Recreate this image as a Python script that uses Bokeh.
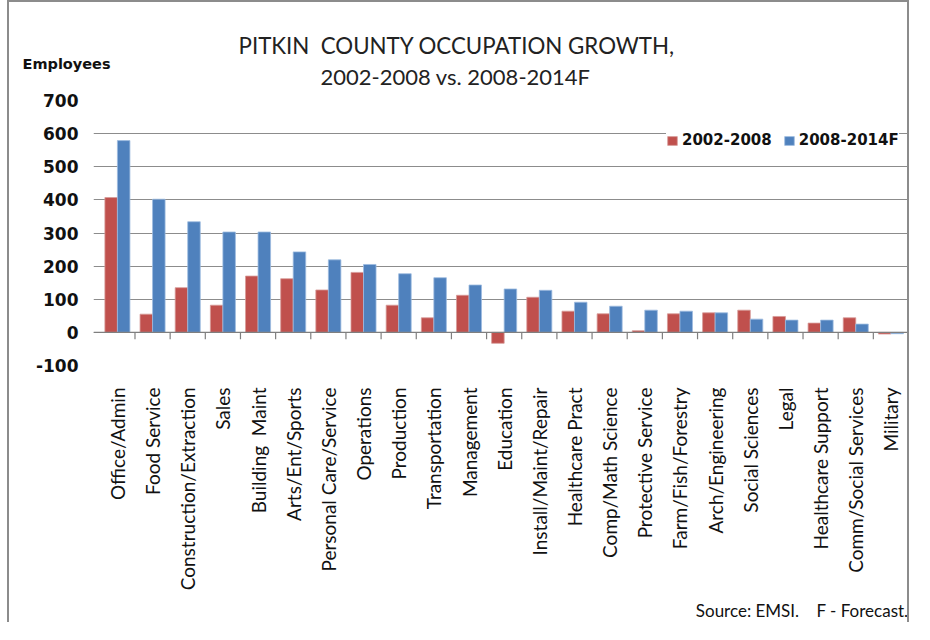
import math
from bokeh.plotting import figure
from bokeh.models import Range1d, FixedTicker, Span, Title, ColumnDataSource
from bokeh.transform import dodge
from bokeh.embed import file_html
from bokeh.resources import INLINE

categories = ["Office/Admin", "Food Service", "Construction/Extraction", "Sales",
              "Building\u00a0 Maint", "Arts/Ent/Sports", "Personal Care/Service", "Operations",
              "Production", "Transportation", "Management", "Education",
              "Install/Maint/Repair", "Healthcare Pract", "Comp/Math Science",
              "Protective Service", "Farm/Fish/Forestry", "Arch/Engineering",
              "Social Sciences", "Legal", "Healthcare Support", "Comm/Social Services",
              "Military"]
growth_2002_2008 = [407, 55, 135, 82, 170, 162, 128, 181, 82, 44, 112, -33,
                    106, 64, 56, 5, 56, 59, 67, 48, 28, 44, -5]
growth_2008_2014F = [579, 402, 334, 303, 303, 243, 219, 205, 177, 165, 143, 131,
                     127, 91, 79, 67, 64, 59, 40, 37, 37, 25, -4]
y_ticks = [-100, 0, 100, 200, 300, 400, 500, 600, 700]
y_tick_labels = ["-100", "0", "100", "200", "300", "400", "500", "600", "700"]
series_names = ["2002-2008", "2008-2014F"]

RED = "#C0504D"
BLUE = "#4F81BD"
GRID = "#8c8c8c"

idx = list(range(len(categories)))
src = ColumnDataSource(dict(x=idx, a=growth_2002_2008, b=growth_2008_2014F))

p = figure(width=902, height=622, output_backend="svg", toolbar_location=None,
           x_range=Range1d(-0.68, len(categories) - 0.5), y_range=Range1d(y_ticks[0], y_ticks[-1]),
           min_border_left=84, min_border_right=3, min_border_top=98, min_border_bottom=256,
           styles={"margin-left": "7px", "border-left": "2px solid #8c8c8c",
                   "border-top": "2px solid #8c8c8c", "border-right": "2px solid #8c8c8c"})
p.outline_line_color = None
p.background_fill_color = "white"
p.border_fill_color = "white"

p.vbar(x=dodge("x", -0.178, range=p.x_range), top="a", bottom=0, width=0.356, source=src,
       fill_color=RED, line_color="#D79A98", line_width=0.8, legend_label=series_names[0])
p.vbar(x=dodge("x", 0.178, range=p.x_range), top="b", bottom=0, width=0.356, source=src,
       fill_color=BLUE, line_color="#9DBBE0", line_width=0.8, legend_label=series_names[1])

# category axis line at zero with boundary ticks
p.add_layout(Span(location=0, dimension="width", line_color="#7f7f7f", line_width=1.2))
bounds = [i + 0.5 for i in idx]
p.segment(x0=bounds, y0=[0] * len(bounds), x1=bounds, y1=[-21] * len(bounds),
          line_color="#7f7f7f", line_width=1.2)

# y axis
p.yaxis.ticker = FixedTicker(ticks=y_ticks)
p.yaxis.major_label_overrides = {t: s for t, s in zip(y_ticks, y_tick_labels)}
p.yaxis.axis_line_color = None
p.yaxis.major_tick_line_color = None
p.yaxis.major_tick_out = 0
p.yaxis.major_tick_in = 0
p.yaxis.minor_tick_line_color = None
p.yaxis.major_label_standoff = 15
p.yaxis.major_label_text_font = "DejaVu Sans"
p.yaxis.major_label_text_font_style = "bold"
p.yaxis.major_label_text_font_size = "17px"
p.yaxis.major_label_text_color = "#111111"

p.ygrid.ticker = FixedTicker(ticks=y_ticks)
p.ygrid.grid_line_color = GRID
p.ygrid.grid_line_width = 1
p.xgrid.grid_line_color = None

# x axis labels at the bottom
p.xaxis.ticker = FixedTicker(ticks=idx)
p.xaxis.major_label_overrides = {i: c for i, c in zip(idx, categories)}
p.xaxis.major_label_orientation = math.pi / 2
p.xaxis.axis_line_color = None
p.xaxis.major_tick_line_color = None
p.xaxis.major_tick_out = 0
p.xaxis.major_tick_in = 0
p.xaxis.minor_tick_line_color = None
p.xaxis.major_label_standoff = 22
p.xaxis.major_label_text_font = "Lato"
p.xaxis.major_label_text_font_size = "19px"
p.xaxis.major_label_text_color = "#111111"

# legend
lg = p.legend[0]
lg.orientation = "horizontal"
lg.location = (573, 216)
lg.border_line_color = None
lg.background_fill_color = "white"
lg.background_fill_alpha = 1
lg.padding = 10
lg.spacing = 11
lg.glyph_width = 12
lg.glyph_height = 11
lg.label_standoff = 4
lg.label_text_font = "DejaVu Sans"
lg.label_text_font_style = "bold"
lg.label_text_font_size = "15px"
lg.label_text_color = "#111111"

# titles above the frame (closest to the frame first)
p.add_layout(Title(text="2002-2008 vs. 2008-2014F", align="left", offset=227,
                   text_font="Lato", text_font_size="22px", text_font_style="normal",
                   text_color="#222222", standoff=21), "above")
p.add_layout(Title(text="Employees", align="left", offset=-71,
                   text_font="DejaVu Sans", text_font_size="14.5px", text_font_style="bold",
                   text_color="#111111", standoff=-42), "above")
p.add_layout(Title(text="PITKIN\u00a0 COUNTY OCCUPATION GROWTH,", align="left", offset=145,
                   text_font="Lato", text_font_size="22.3px", text_font_style="normal",
                   text_color="#222222", standoff=-16), "above")

# source note below the category labels
p.add_layout(Title(text="Source: EMSI.\u00a0\u00a0\u00a0 F - Forecast.", align="right", offset=0,
                   text_font="Lato", text_font_size="17px", text_font_style="normal",
                   text_color="#111111", standoff=8), "below")

open("out.html", "w").write(file_html(p, INLINE))
